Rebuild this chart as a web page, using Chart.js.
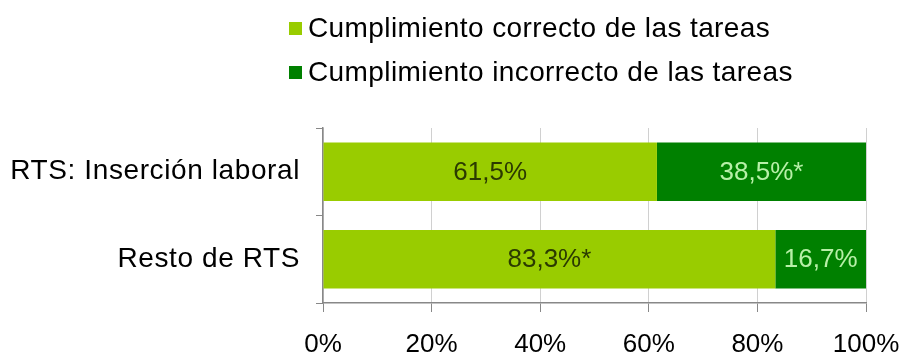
<!DOCTYPE html>
<html>
<head>
<meta charset="utf-8">
<script src="https://cdn.jsdelivr.net/npm/chart.js@4/dist/chart.umd.min.js"></script>
<style>
  html, body { margin: 0; padding: 0; background: #fff; }
  #wrap { width: 901px; height: 358px; }
</style>
</head>
<body>
<div id="wrap"><canvas id="chart" width="901" height="358"></canvas></div>
<script>
const categories = ['RTS: Inserción laboral', 'Resto de RTS'];
const correcto = [61.5, 83.3];
const incorrecto = [38.5, 16.7];
const correctoMarks = ['', '*'];
const incorrectoMarks = ['*', ''];
const seriesNames = ['Cumplimiento correcto de las tareas', 'Cumplimiento incorrecto de las tareas'];
const xTicks = [0, 20, 40, 60, 80, 100];

const LIGHT = '#99cc00';
const DARK = '#008000';
const FONT = '"Liberation Sans", Arial, sans-serif';

// slightly looser text spacing for the category labels
const spacingPlugin = {
    id: 'looseText',
    beforeDraw(chart) {
        chart.ctx.letterSpacing = '0.6px';
    }
};

// legend drawn above the plot, one item per line
const legendPlugin = {
    id: 'stackedLegend',
    afterDraw(chart) {
        const c = chart.ctx;
        c.save();
        c.font = '28px ' + FONT;
        c.letterSpacing = '0.4px';
        c.textBaseline = 'middle';
        chart.data.datasets.forEach((ds, i) => {
            const y = 29 + i * 44;
            c.fillStyle = ds.backgroundColor;
            c.fillRect(289, y - 7, 13, 13);
            c.fillStyle = '#000';
            c.fillText(ds.label, 308, y);
        });
        c.restore();
    }
};

// percent labels under the x axis (drawn here so 100% may run to the edge)
const xLabelPlugin = {
    id: 'xPercentLabels',
    afterDraw(chart) {
        const c = chart.ctx;
        const sx = chart.scales.x;
        c.save();
        c.font = '26px ' + FONT;
        c.letterSpacing = '0px';
        c.fillStyle = '#000';
        c.textAlign = 'center';
        c.textBaseline = 'middle';
        xTicks.forEach(v => {
            c.fillText(v + '%', sx.getPixelForValue(v), 345);
        });
        c.restore();
    }
};

// value labels centred in each bar segment
const valuePlugin = {
    id: 'segmentValues',
    afterDatasetsDraw(chart) {
        const c = chart.ctx;
        c.save();
        c.font = '26px ' + FONT;
        c.letterSpacing = '0px';
        c.textAlign = 'center';
        c.textBaseline = 'middle';
        chart.data.datasets.forEach((ds, i) => {
            chart.getDatasetMeta(i).data.forEach((bar, j) => {
                const txt = ds.data[j].toFixed(1).replace('.', ',') + '%' + ds.marks[j];
                const cx = (bar.x + bar.base) / 2;
                c.fillStyle = ds.textColor;
                c.fillText(txt, cx, bar.y + 1);
            });
        });
        c.restore();
    }
};

new Chart(document.getElementById('chart'), {
    type: 'bar',
    data: {
        labels: categories,
        datasets: [{
            label: seriesNames[0],
            data: correcto,
            marks: correctoMarks,
            textColor: '#2b3a00',
            backgroundColor: LIGHT,
            barPercentage: 0.67,
            categoryPercentage: 1
        }, {
            label: seriesNames[1],
            data: incorrecto,
            marks: incorrectoMarks,
            textColor: '#b8f0a8',
            backgroundColor: DARK,
            barPercentage: 0.67,
            categoryPercentage: 1
        }]
    },
    options: {
        indexAxis: 'y',
        responsive: false,
        animation: false,
        layout: { padding: { top: 128, right: 35, left: 0, bottom: 0 } },
        plugins: {
            legend: { display: false },
            tooltip: { enabled: false }
        },
        scales: {
            x: {
                stacked: true,
                min: 0,
                max: 100,
                afterBuildTicks(scale) {
                    scale.ticks = xTicks.map(v => ({ value: v }));
                },
                afterFit(scale) { scale.height = 55; },
                ticks: { display: false },
                grid: {
                    color: '#d0d0d0',
                    tickColor: '#888',
                    tickLength: 9
                },
                border: { color: '#888', width: 1.5 }
            },
            y: {
                stacked: true,
                afterFit(scale) { scale.width = 323; },
                ticks: {
                    color: '#000',
                    font: { family: FONT, size: 28 },
                    padding: 16
                },
                grid: {
                    drawOnChartArea: false,
                    tickColor: '#888',
                    tickLength: 7,
                    offset: true
                },
                border: { color: '#888', width: 1.5 }
            }
        }
    },
    plugins: [spacingPlugin, legendPlugin, xLabelPlugin, valuePlugin]
});
</script>
</body>
</html>
